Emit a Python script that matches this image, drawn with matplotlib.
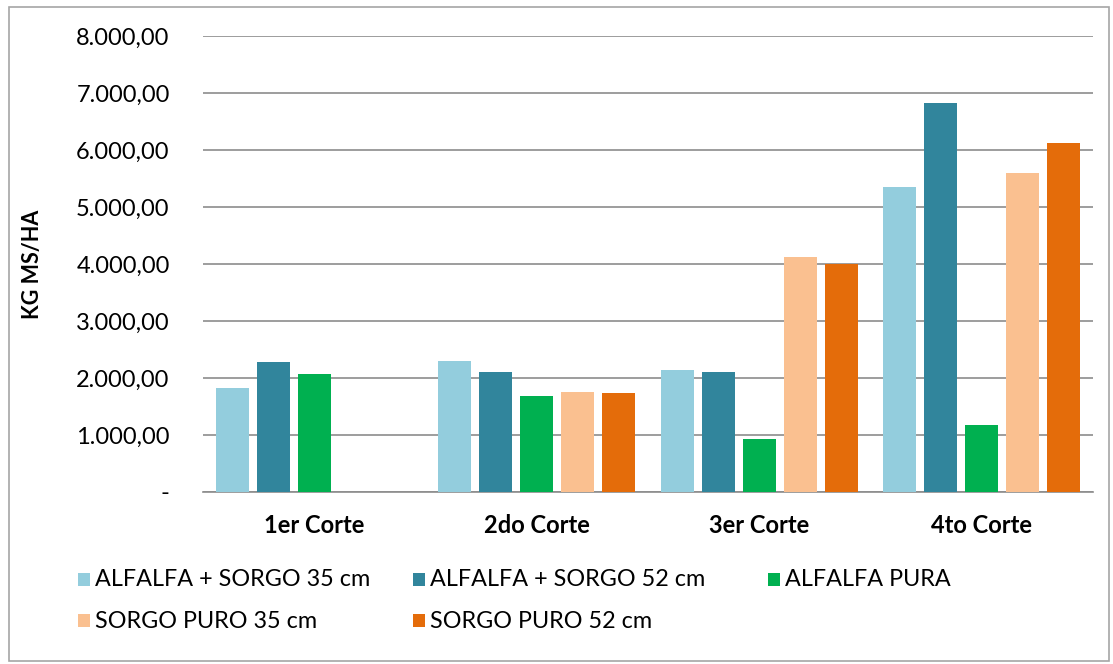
import numpy as np
import matplotlib.pyplot as plt
from matplotlib.patches import Rectangle
from matplotlib.ticker import FuncFormatter

plt.rcParams['font.family'] = ['Lato', 'DejaVu Sans']

categories = ["1er Corte", "2do Corte", "3er Corte", "4to Corte"]
series_names = ["ALFALFA + SORGO 35 cm", "ALFALFA + SORGO 52 cm", "ALFALFA PURA",
                "SORGO PURO 35 cm", "SORGO PURO 52 cm"]
alfalfa_sorgo_35 = [1825, 2298, 2140, 5351]
alfalfa_sorgo_52 = [2281, 2105, 2105, 6825]
alfalfa_pura = [2070, 1684, 930, 1175]
sorgo_puro_35 = [np.nan, 1754, 4123, 5596]
sorgo_puro_52 = [np.nan, 1737, 4000, 6123]
colors = ["#93CDDD", "#31859C", "#00B050", "#FAC090", "#E46C0A"]

series = [alfalfa_sorgo_35, alfalfa_sorgo_52, alfalfa_pura, sorgo_puro_35, sorgo_puro_52]

W, H = 1113, 664
fig = plt.figure(figsize=(W / 100, H / 100), dpi=100)
ax = fig.add_axes([203 / W, 1 - 492 / H, (1093 - 203) / W, (492 - 36) / H])

x = np.arange(len(categories))
step = 0.184
width = 0.148
for i, (vals, c, name) in enumerate(zip(series, colors, series_names)):
    ax.bar(x + (i - 2) * step, vals, width=width, color=c, label=name, zorder=3)

ax.set_xlim(-0.5, len(categories) - 0.5)
ax.set_ylim(0, 8000)
ax.set_yticks(np.arange(0, 8001, 1000))


def fmt(v, pos):
    if v == 0:
        return "-"
    return f"{v:,.2f}".replace(",", "X").replace(".", ",").replace("X", ".")


ax.yaxis.set_major_formatter(FuncFormatter(fmt))
ax.grid(axis='y', color='#8c8c8c', linewidth=1.2, zorder=0)
for s in ['top', 'right', 'left']:
    ax.spines[s].set_visible(False)
ax.spines['bottom'].set_color('#8c8c8c')
ax.spines['bottom'].set_linewidth(1.2)
ax.tick_params(axis='y', length=0, pad=24, labelsize=17)
ax.tick_params(axis='x', length=0, pad=16, labelsize=17)
ax.set_xticks(x)
ax.set_xticklabels(categories, fontweight='bold')
ax.set_ylabel("KG MS/HA", fontsize=15.5, fontweight='bold', labelpad=24)

# legend laid out in rows of three, left to right
col_x = [78, 413, 768]
row_y = [580, 621]
for k, (name, c) in enumerate(zip(series_names, colors)):
    r, col = divmod(k, 3)
    px, py = col_x[col], row_y[r]
    fig.patches.append(Rectangle((px / W, 1 - (py + 6) / H), 12 / W, 13 / H,
                                 transform=fig.transFigure, facecolor=c,
                                 edgecolor='none'))
    fig.text((px + 17) / W, 1 - py / H, name, fontsize=16.8, va='center',
             ha='left')

fig.patches.append(Rectangle((9 / W, 3 / H), (1109 - 9) / W, (657 - 3) / H,
                             transform=fig.transFigure, fill=False,
                             edgecolor='#a6a6a6', linewidth=1.2))

fig.savefig("out.png", dpi=100)
